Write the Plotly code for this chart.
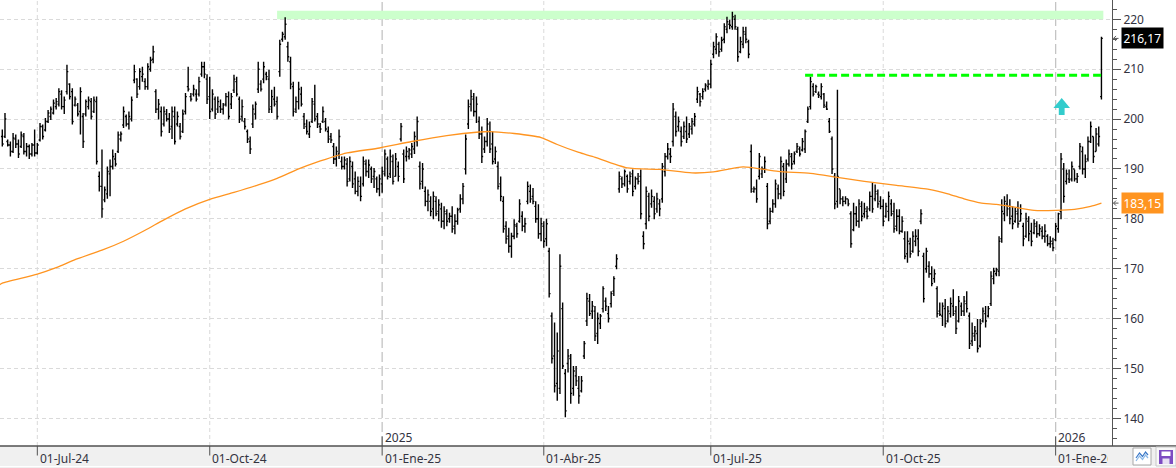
import pandas as pd
import plotly.graph_objects as go

# ---------------- data ----------------
start_date = "2024-06-11"
end_date = "2026-01-28"
market_holidays = ["2024-06-19", "2024-07-04", "2024-09-02", "2024-11-28", "2024-12-25",
                   "2025-01-01", "2025-01-09", "2025-01-20", "2025-02-17", "2025-04-18",
                   "2025-05-26", "2025-06-19", "2025-07-04", "2025-09-01", "2025-11-27",
                   "2025-12-25", "2026-01-01", "2026-01-19"]

opens = [196.5, 196.5, 195.5, 194.8, 193.5, 196.0, 195.0, 194.5, 196.5, 193.5,
         194.5, 193.0, 194.8, 193.2, 195.8, 198.5, 197.8, 199.5, 200.5, 201.2,
         202.5, 203.0, 205.0, 202.5, 205.5, 207.0, 205.5, 202.8, 202.8, 201.5,
         200.5, 201.0, 202.5, 203.5, 201.5, 203.5, 188.5, 186.5, 183.8, 185.0,
         189.0, 190.5, 192.0, 193.5, 196.0, 198.8, 200.5, 199.0, 200.0, 207.8,
         208.0, 206.5, 208.5, 207.5, 206.5, 210.0, 212.0, 205.5, 202.0, 201.5,
         199.0, 201.0, 200.0, 198.5, 200.5, 199.0, 198.5, 197.5, 201.5, 206.5,
         204.5, 205.0, 205.0, 205.0, 209.0, 210.5, 208.0, 204.5, 202.0, 204.0,
         202.0, 202.5, 202.0, 203.0, 204.5, 203.0, 205.8, 207.5, 204.0, 200.5,
         199.5, 197.5, 195.5, 199.0, 201.0, 206.0, 207.0, 208.0, 209.0, 208.0,
         202.5, 204.0, 203.5, 209.5, 216.0, 216.5, 214.5, 211.5, 206.5, 202.0,
         203.5, 205.0, 200.5, 198.5, 197.0, 199.5, 203.0, 200.5, 198.5, 199.5,
         199.5, 197.5, 196.5, 194.5, 192.0, 193.0, 191.5, 190.5, 191.0, 188.0,
         190.5, 188.0, 185.5, 186.5, 187.0, 191.0, 189.5, 190.0, 188.5, 188.0,
         186.0, 187.0, 189.0, 192.0, 189.0, 191.5, 188.5, 190.5, 196.0, 193.0,
         192.5, 192.5, 193.0, 194.0, 195.5, 190.5, 187.5, 185.5, 183.5, 183.5,
         182.0, 183.5, 181.5, 182.0, 179.5, 181.0, 180.0, 180.5, 178.5, 179.5,
         182.0, 184.0, 190.0, 199.0, 203.0, 204.0, 201.5, 199.5, 197.0, 194.0,
         195.5, 197.5, 195.0, 192.0, 190.5, 187.0, 183.5, 178.5, 176.5, 174.5,
         176.5, 178.5, 179.5, 180.5, 178.5, 183.5, 185.5, 184.5, 182.5, 180.0,
         177.0, 178.5, 176.0, 173.5, 160.5, 152.5, 147.0, 146.0, 162.0, 149.0,
         151.0, 152.0, 146.0, 148.5, 146.0, 145.5, 152.5, 159.5, 163.5, 161.5,
         161.5, 157.0, 159.0, 162.0, 163.5, 161.0, 163.0, 165.5, 170.5, 186.0,
         188.0, 187.0, 188.5, 187.5, 189.0, 186.5, 188.0, 188.5, 176.5, 179.0,
         184.5, 183.0, 183.5, 182.0, 183.0, 184.0, 189.5, 192.5, 193.0, 195.5,
         200.5, 198.5, 197.5, 196.5, 197.5, 197.0, 198.0, 199.0, 204.0, 205.0,
         204.5, 206.0, 206.5, 207.0, 213.0, 214.0, 215.0, 214.0, 216.0, 218.0,
         219.0, 218.5, 220.0, 218.0, 213.5, 215.0, 217.0, 215.5, 193.5, 185.5,
         186.0, 188.5, 189.0, 190.0, 186.5, 179.5, 181.5, 183.0, 186.0, 185.0,
         190.5, 188.0, 191.0, 192.5, 191.5, 193.5, 194.0, 193.8, 194.0, 199.5,
         202.5, 206.5, 205.5, 205.0, 204.5, 205.0, 202.5, 199.5, 196.0, 188.5,
         183.5, 186.0, 184.0, 183.5, 184.0, 181.0, 177.8, 181.0, 179.5, 182.5,
         181.0, 181.5, 182.0, 184.5, 184.0, 185.0, 183.5, 182.5, 180.5, 181.5,
         183.0, 181.5, 178.5, 180.5, 177.5, 176.0, 173.0, 175.0, 173.5, 175.5,
         176.0, 179.5, 172.5, 170.0, 170.5, 169.0, 168.0, 166.0, 161.5, 160.5,
         162.0, 159.5, 161.0, 162.5, 161.5, 159.5, 162.5, 161.5, 163.0, 160.5,
         155.5, 156.5, 157.0, 154.5, 159.5, 161.0, 160.5, 163.0, 168.0, 169.0,
         169.5, 176.0, 181.0, 183.0, 182.5, 180.5, 179.5, 181.0, 179.5, 178.5,
         176.5, 179.5, 177.5, 177.2, 178.5, 177.0, 177.5, 176.5, 176.5, 175.0,
         175.0, 175.8, 178.0, 181.5, 190.0, 187.5, 188.0, 188.0, 190.0, 188.0,
         190.5, 193.5, 190.0, 192.0, 195.5, 196.5, 193.5, 195.0, 204.5]

highs = [197.9, 201.2, 195.9, 195.5, 197.2, 196.9, 195.9, 197.5, 197.2, 195.2,
         194.9, 195.2, 197.9, 195.2, 199.2, 198.9, 200.2, 201.8, 202.5, 203.9,
         204.2, 206.2, 205.8, 204.5, 210.9, 207.2, 206.2, 204.5, 203.2, 206.4,
         201.2, 203.9, 204.5, 204.2, 204.5, 204.5, 189.5, 193.9, 186.5, 190.5,
         191.9, 193.9, 193.2, 197.5, 197.5, 202.5, 200.9, 201.5, 204.5, 210.9,
         208.2, 210.2, 210.5, 208.2, 211.2, 212.5, 214.7, 206.0, 204.0, 202.5,
         202.5, 202.0, 201.2, 202.5, 202.5, 201.5, 199.2, 201.9, 205.2, 210.5,
         205.2, 206.9, 206.0, 208.5, 211.5, 211.5, 209.0, 208.5, 206.0, 204.5,
         204.5, 203.9, 203.2, 205.2, 205.5, 205.2, 208.9, 208.5, 204.5, 203.9,
         200.2, 197.9, 196.5, 202.9, 203.5, 211.5, 207.8, 211.5, 209.5, 209.9,
         205.9, 206.5, 204.5, 215.9, 217.5, 220.4, 215.5, 212.5, 207.5, 204.5,
         207.5, 206.5, 201.2, 199.9, 199.5, 204.2, 206.9, 201.2, 199.2, 202.5,
         200.2, 198.5, 197.2, 195.2, 194.5, 197.9, 192.5, 192.5, 192.2, 192.5,
         191.5, 189.5, 188.5, 188.5, 192.5, 191.9, 191.9, 190.5, 190.2, 188.5,
         188.9, 190.5, 193.9, 192.5, 193.9, 192.9, 193.2, 191.5, 199.2, 193.9,
         194.5, 194.2, 195.2, 197.5, 200.5, 191.5, 191.2, 186.5, 185.9, 184.5,
         185.5, 184.5, 183.9, 183.2, 182.5, 181.9, 181.2, 182.5, 180.9, 182.2,
         184.9, 187.2, 196.9, 203.9, 205.9, 205.2, 204.5, 200.5, 198.5, 196.5,
         200.2, 199.5, 197.5, 194.5, 191.5, 188.5, 184.5, 179.5, 178.2, 177.2,
         179.9, 179.2, 183.9, 181.5, 180.2, 187.5, 186.9, 186.2, 183.5, 182.9,
         180.2, 179.5, 180.0, 174.2, 161.2, 159.2, 157.2, 172.9, 163.2, 149.9,
         153.9, 152.9, 150.5, 150.5, 148.5, 148.5, 155.5, 165.2, 164.9, 163.5,
         162.5, 161.2, 160.9, 166.5, 164.2, 162.5, 165.5, 168.5, 172.9, 189.5,
         188.5, 189.9, 188.9, 189.5, 189.9, 188.5, 189.2, 189.9, 177.5, 186.5,
         185.2, 185.9, 184.5, 185.2, 183.9, 191.2, 193.2, 195.2, 194.2, 203.2,
         201.5, 200.5, 198.5, 199.5, 200.5, 199.2, 200.2, 201.2, 206.5, 205.2,
         206.2, 207.2, 207.9, 211.9, 215.5, 217.2, 215.5, 216.5, 219.2, 220.5,
         219.9, 221.5, 220.9, 218.5, 216.5, 218.5, 218.5, 215.9, 194.9, 186.5,
         187.9, 193.2, 190.5, 192.5, 187.2, 182.2, 183.9, 187.9, 186.9, 192.5,
         191.2, 191.9, 193.9, 193.2, 193.5, 195.2, 194.5, 196.2, 197.9, 202.5,
         208.5, 207.2, 206.9, 205.5, 207.2, 205.2, 203.5, 200.2, 196.5, 189.2,
         205.9, 185.9, 184.5, 184.5, 183.9, 181.5, 183.2, 182.5, 183.9, 183.5,
         183.2, 182.5, 185.5, 187.2, 186.9, 185.9, 184.5, 183.9, 183.2, 185.5,
         183.9, 183.2, 181.9, 181.9, 180.5, 177.5, 177.5, 176.2, 177.5, 177.9,
         177.9, 181.9, 173.2, 174.2, 171.5, 170.5, 169.9, 166.5, 163.2, 163.2,
         163.9, 162.5, 164.2, 165.9, 162.5, 164.5, 163.2, 164.5, 165.5, 161.2,
         159.2, 158.5, 159.9, 159.9, 162.2, 162.5, 162.5, 169.5, 170.2, 170.2,
         176.5, 183.9, 184.5, 184.9, 183.9, 182.5, 182.2, 183.5, 182.9, 179.2,
         181.2, 180.5, 179.2, 179.9, 179.5, 178.9, 178.5, 178.9, 176.9, 176.5,
         176.2, 179.2, 181.2, 193.2, 191.2, 189.9, 189.9, 191.5, 189.9, 189.2,
         195.2, 194.5, 192.9, 196.5, 199.5, 196.5, 198.2, 198.5, 216.5]

lows = [194.5, 196.2, 194.5, 192.5, 193.2, 194.2, 192.2, 194.2, 192.9, 192.5,
        192.0, 192.5, 192.5, 192.9, 195.5, 195.9, 197.5, 199.2, 199.8, 200.9,
        201.9, 202.5, 201.9, 201.0, 204.9, 203.9, 198.9, 202.5, 200.5, 196.9,
        194.2, 200.5, 201.9, 199.9, 201.2, 190.9, 185.5, 180.2, 183.3, 184.0,
        184.5, 189.9, 190.5, 193.2, 195.5, 198.2, 198.5, 197.9, 199.5, 207.2,
        204.2, 205.9, 207.5, 205.9, 205.9, 209.5, 211.2, 201.2, 199.9, 196.5,
        198.5, 199.5, 197.2, 196.0, 194.9, 198.5, 195.9, 197.2, 200.9, 205.5,
        203.5, 204.5, 203.5, 204.5, 208.5, 208.2, 203.0, 200.0, 201.5, 200.0,
        201.2, 201.2, 200.9, 202.5, 199.9, 202.0, 205.2, 204.5, 199.2, 199.5,
        197.9, 195.2, 193.0, 198.2, 199.9, 205.2, 205.5, 207.2, 207.8, 201.2,
        201.2, 202.5, 199.9, 208.5, 215.5, 215.9, 211.5, 206.0, 200.5, 201.2,
        201.9, 202.5, 198.0, 196.9, 196.2, 199.2, 199.5, 198.2, 197.2, 199.2,
        197.5, 195.2, 195.2, 191.0, 190.5, 192.0, 189.9, 189.9, 186.5, 187.5,
        186.2, 184.9, 184.5, 183.5, 186.5, 188.5, 188.2, 187.2, 186.2, 185.2,
        184.5, 185.2, 188.5, 187.9, 188.2, 186.9, 188.5, 187.5, 195.5, 187.2,
        191.5, 191.9, 192.2, 193.0, 194.5, 185.9, 186.0, 182.5, 181.5, 180.5,
        179.9, 180.5, 179.5, 178.2, 177.9, 178.5, 179.2, 177.2, 176.9, 178.8,
        181.2, 182.9, 188.9, 198.0, 201.5, 200.5, 199.2, 196.0, 191.2, 193.2,
        194.5, 193.2, 190.9, 191.0, 185.9, 183.5, 177.2, 175.0, 173.2, 172.2,
        175.9, 176.2, 179.2, 177.5, 177.2, 182.9, 183.2, 182.9, 179.2, 176.0,
        175.5, 174.2, 174.5, 164.2, 151.0, 145.2, 143.5, 144.9, 149.9, 140.2,
        149.2, 142.9, 144.5, 146.5, 142.9, 145.2, 151.9, 158.5, 160.5, 159.9,
        155.5, 154.9, 157.9, 161.2, 161.5, 159.2, 162.2, 164.5, 169.9, 185.2,
        186.2, 186.5, 185.2, 186.9, 184.5, 185.9, 186.9, 179.9, 173.9, 177.9,
        179.5, 182.2, 179.9, 181.2, 180.5, 183.2, 188.5, 191.9, 191.2, 194.5,
        196.5, 197.5, 194.5, 196.0, 195.2, 196.2, 196.9, 198.5, 203.2, 202.5,
        203.9, 205.5, 205.9, 206.2, 212.2, 213.0, 212.5, 213.5, 215.2, 217.2,
        218.0, 217.9, 217.9, 211.5, 213.2, 214.2, 215.2, 212.2, 185.2, 185.2,
        183.2, 187.9, 188.2, 189.2, 177.9, 178.9, 181.2, 182.2, 183.9, 183.9,
        184.5, 187.2, 190.5, 189.9, 190.9, 193.2, 192.5, 193.5, 193.2, 199.2,
        201.9, 204.5, 205.2, 204.2, 203.9, 202.2, 201.8, 197.2, 189.0, 181.9,
        182.2, 182.9, 182.5, 182.9, 182.5, 174.2, 177.5, 178.5, 178.2, 179.5,
        180.2, 179.9, 181.5, 181.2, 183.5, 182.2, 181.9, 178.5, 180.2, 179.5,
        180.5, 177.2, 177.5, 176.9, 177.2, 171.9, 171.2, 172.2, 173.2, 174.5,
        172.5, 178.9, 163.2, 169.2, 168.2, 166.5, 167.2, 160.2, 160.5, 158.5,
        158.2, 159.2, 160.2, 160.5, 156.9, 159.2, 160.5, 160.5, 161.2, 153.9,
        154.5, 155.5, 153.2, 154.2, 159.2, 158.2, 160.2, 162.5, 166.9, 168.5,
        168.5, 175.2, 179.5, 180.5, 178.9, 177.9, 179.2, 178.2, 179.5, 174.5,
        176.2, 175.5, 174.5, 176.9, 176.2, 176.5, 175.9, 175.2, 174.5, 174.2,
        173.5, 175.5, 177.2, 179.9, 183.2, 186.9, 187.2, 187.5, 187.5, 187.2,
        189.9, 188.9, 188.2, 191.5, 195.2, 191.2, 193.5, 194.5, 203.9]

closes = [195.0, 200.0, 194.8, 193.5, 196.2, 195.0, 193.0, 196.8, 193.5, 194.5,
          193.0, 194.8, 193.2, 194.8, 198.5, 196.5, 199.5, 201.2, 202.0, 203.2,
          203.5, 205.5, 202.5, 203.8, 209.5, 204.5, 199.5, 204.0, 201.0, 205.5,
          195.5, 203.5, 203.8, 200.5, 203.8, 191.5, 186.5, 182.0, 185.8, 189.5,
          190.5, 192.5, 191.0, 196.8, 197.0, 201.5, 199.0, 200.5, 203.8, 209.5,
          205.0, 209.5, 209.0, 206.5, 210.5, 211.8, 213.5, 202.0, 203.0, 197.5,
          201.5, 200.0, 198.0, 201.5, 195.5, 200.5, 196.5, 201.0, 204.5, 206.0,
          204.0, 206.0, 204.0, 207.5, 210.5, 209.0, 204.0, 201.5, 205.0, 201.0,
          203.5, 202.0, 202.8, 204.5, 200.5, 204.5, 208.0, 205.0, 200.0, 202.5,
          198.5, 196.0, 194.0, 202.0, 203.0, 210.0, 206.0, 210.5, 208.5, 202.0,
          204.5, 203.0, 200.5, 215.0, 217.0, 219.0, 212.5, 207.0, 201.5, 203.5,
          206.0, 203.0, 199.0, 197.5, 198.5, 203.5, 200.0, 199.0, 198.0, 201.5,
          198.0, 196.0, 195.8, 192.0, 193.5, 196.5, 190.5, 191.8, 187.5, 191.5,
          187.0, 185.5, 187.5, 184.5, 191.5, 189.5, 190.8, 188.0, 189.5, 186.0,
          188.0, 189.5, 193.0, 188.5, 192.5, 187.5, 192.0, 188.5, 198.5, 188.0,
          193.5, 193.8, 194.5, 196.5, 199.5, 187.0, 190.0, 183.5, 184.8, 181.5,
          184.5, 181.0, 182.8, 179.5, 181.5, 179.5, 180.5, 178.0, 179.5, 181.8,
          184.0, 186.5, 196.0, 202.5, 204.5, 201.5, 203.0, 197.0, 192.5, 195.5,
          199.0, 194.0, 191.5, 193.5, 186.5, 184.5, 178.0, 176.0, 174.5, 176.5,
          178.8, 177.0, 183.0, 178.5, 179.0, 186.5, 184.0, 183.5, 180.0, 177.0,
          179.0, 175.5, 179.0, 165.0, 152.0, 146.5, 153.5, 170.5, 150.5, 141.5,
          152.5, 145.0, 149.5, 147.5, 144.5, 147.5, 155.0, 164.0, 161.0, 162.5,
          156.5, 160.0, 160.5, 166.0, 162.5, 160.0, 165.0, 168.0, 172.0, 188.5,
          187.0, 189.5, 186.0, 188.5, 185.5, 188.0, 187.5, 181.0, 175.0, 185.5,
          180.5, 184.5, 181.0, 184.0, 182.0, 190.5, 192.5, 194.0, 192.5, 202.0,
          197.5, 199.5, 195.5, 198.5, 196.0, 198.5, 199.5, 200.5, 205.5, 203.5,
          205.5, 206.8, 207.0, 211.0, 214.5, 216.5, 213.5, 215.8, 218.5, 219.5,
          218.8, 220.5, 218.5, 212.5, 215.5, 217.5, 216.0, 213.0, 186.0, 186.0,
          184.0, 192.5, 190.0, 191.5, 179.0, 181.5, 183.0, 187.0, 185.0, 191.5,
          185.5, 191.0, 193.0, 191.0, 193.0, 194.5, 193.0, 195.5, 197.5, 202.0,
          207.5, 205.0, 206.5, 204.8, 206.5, 202.8, 202.0, 197.5, 190.0, 183.0,
          188.5, 184.0, 183.5, 184.0, 183.0, 175.0, 181.0, 179.5, 183.0, 180.5,
          182.0, 180.5, 184.5, 182.0, 185.5, 183.0, 182.5, 179.5, 182.5, 184.5,
          181.0, 178.0, 180.5, 177.5, 179.5, 172.5, 175.5, 173.0, 176.5, 176.5,
          173.5, 181.0, 164.0, 173.5, 169.0, 167.0, 169.0, 161.0, 160.8, 162.5,
          159.0, 161.5, 163.0, 161.0, 158.0, 163.5, 161.5, 163.5, 162.0, 155.0,
          157.0, 157.5, 154.0, 159.0, 161.5, 159.5, 162.0, 168.5, 169.5, 169.8,
          175.5, 181.5, 183.5, 182.0, 180.0, 179.0, 181.5, 179.0, 181.0, 176.0,
          180.0, 177.0, 175.5, 179.0, 177.0, 178.0, 176.5, 177.5, 175.0, 175.5,
          174.2, 178.5, 181.0, 192.0, 184.5, 189.0, 187.8, 190.5, 188.0, 188.5,
          194.5, 190.0, 191.5, 195.5, 198.5, 192.5, 197.0, 196.5, 216.17]

# 200-session moving average (bar index, value)
ma_idx = [-1, 0, 13, 20, 28, 37, 45, 53, 60, 68,
          77, 86, 95, 102, 110, 116, 128, 140, 152, 165,
          177, 181, 190, 200, 206, 214, 219, 232, 244, 256,
          264, 275, 288, 300, 310, 320, 332, 344, 351, 357,
          363, 369, 375, 383, 391, 398, 404, 408]
ma_vals = [166.8, 167.1, 168.9, 170.2, 172.0, 173.7, 175.5, 177.7, 179.8, 182.0,
           183.9, 185.3, 186.8, 188.1, 190.0, 191.2, 193.2, 194.2, 195.5, 196.7,
           197.4, 197.5, 197.1, 196.3, 194.9, 193.3, 192.5, 190.2, 189.9, 189.2,
           189.4, 190.4, 189.5, 189.1, 188.3, 187.5, 186.7, 185.9, 185.0, 184.0,
           183.2, 182.9, 182.4, 181.7, 181.7, 181.9, 182.5, 183.15]

quarter_months = {1: "Ene", 4: "Abr", 7: "Jul", 10: "Oct"}

# drawn studies
resist_band = [220.0, 221.7]
resist_band_start = 102
resist_line_level = 208.8
resist_line_start = 298
arrow_idx = 393.25
arrow_tip = 204.2
arrow_base = 200.8
last_close_text = "216,17"
ma_last_text = "183,15"

# ---------------- geometry / style ----------------
W, H = 1176, 468
ML, MR, MT, MB = 0, 64, 0, 22
PW, PH = W - ML - MR, H - MT - MB
x_lo, x_hi = -0.854, 411.92
y_lo, y_hi = 134.45, 223.87
bar_px = PW / (x_hi - x_lo)
unit_px = PH / (y_hi - y_lo)

FONT = "Noto Sans, Open Sans, sans-serif"
TXT = "#33333f"
AXC = "#505050"
ORANGE = "#FF9420"


def px_x(px):
    return px / PW


def px_y(py):
    return (PH - py) / PH


N = len(closes)
assert len(opens) == N and len(highs) == N and len(lows) == N
dates = pd.bdate_range(start_date, end_date, freq="C", holidays=market_holidays)[:N]
idx = list(range(N))

# quarter ticks
q_ticks = []
for i, d in enumerate(dates):
    if d.month in quarter_months and (i == 0 or dates[i - 1].month != d.month):
        q_ticks.append((i, d))

fig = go.Figure()

fig.add_trace(go.Ohlc(
    x=idx, open=opens, high=highs, low=lows, close=closes,
    increasing=dict(line=dict(color="black", width=1.4)),
    decreasing=dict(line=dict(color="black", width=1.4)),
    tickwidth=0.5, hoverinfo="skip", showlegend=False,
))

fig.add_trace(go.Scatter(
    x=ma_idx, y=ma_vals, mode="lines",
    line=dict(color=ORANGE, width=1.3, shape="spline", smoothing=0.6),
    hoverinfo="skip", showlegend=False,
))

shapes = []
# bottom strip
shapes.append(dict(type="rect", xref="paper", yref="paper", x0=px_x(0), x1=px_x(W),
                   y0=px_y(H), y1=px_y(PH), fillcolor="#F0F0F0", line=dict(width=0), layer="below"))
shapes.append(dict(type="line", xref="paper", yref="paper", x0=px_x(0), x1=px_x(W),
                   y0=px_y(466.5), y1=px_y(466.5), line=dict(color="#ffffff", width=1), layer="below"))
# vertical grid lines
for i, d in q_ticks:
    if d.month == 1:
        shapes.append(dict(type="line", xref="x", yref="paper", x0=i, x1=i, y0=0, y1=1,
                           line=dict(color="#c4c4c4", width=1.3, dash="10px,4px"), layer="below"))
    else:
        shapes.append(dict(type="line", xref="x", yref="paper", x0=i, x1=i, y0=0, y1=1,
                           line=dict(color="#dadada", width=1, dash="4px,3px"), layer="below"))
# bottom axis line
shapes.append(dict(type="line", xref="paper", yref="paper", x0=px_x(0), x1=px_x(W),
                   y0=0, y1=0, line=dict(color=AXC, width=1.5)))
# quarter tick marks (down) and year ticks (up)
for i, d in q_ticks:
    shapes.append(dict(type="line", xref="x", yref="paper", x0=i, x1=i, y0=0, y1=px_y(PH + 9.5),
                       line=dict(color=AXC, width=1)))
    if d.month == 1:
        shapes.append(dict(type="line", xref="x", yref="paper", x0=i, x1=i, y0=0, y1=px_y(PH - 9.5),
                           line=dict(color=AXC, width=1)))
# resistance band
shapes.append(dict(type="rect", xref="x", yref="y", x0=resist_band_start, x1=N - 0.3,
                   y0=resist_band[0], y1=resist_band[1], fillcolor="#CCFFCC",
                   line=dict(width=0), layer="between"))
# dashed resistance line
shapes.append(dict(type="line", xref="x", yref="y", x0=resist_line_start, x1=N - 0.7,
                   y0=resist_line_level, y1=resist_line_level,
                   line=dict(color="#00FF00", width=3, dash="8px,4px")))
# cyan arrow
hw = 8.3 / bar_px
sw = 2.9 / bar_px
hb = arrow_tip - 10.0 / unit_px
a = arrow_idx
arrow_path = (f"M {a - hw},{hb} L {a},{arrow_tip} L {a + hw},{hb} L {a + sw},{hb} "
              f"L {a + sw},{arrow_base} L {a - sw},{arrow_base} L {a - sw},{hb} Z")
shapes.append(dict(type="path", xref="x", yref="y", path=arrow_path,
                   fillcolor="#33CCCC", line=dict(width=0)))
# small pointer arrows at right-hand labels
dy = 2.5 / unit_px
for v in (closes[-1], ma_vals[-1]):
    p = (f"M {px_x(1118.5)},{v} L {px_x(1113.5)},{v} M {px_x(1116)},{v + dy} "
         f"L {px_x(1113.5)},{v} L {px_x(1116)},{v - dy}")
    shapes.append(dict(type="path", xref="paper", yref="y", path=p,
                       line=dict(color="#555555", width=1)))
# toolbar icons (bottom right)
shapes.append(dict(type="rect", xref="paper", yref="paper", x0=px_x(1133), x1=px_x(1151),
                   y0=px_y(465), y1=px_y(448), fillcolor="white", line=dict(color="#a8a8a8", width=1)))
zz1 = f"M {px_x(1136)},{px_y(458)} L {px_x(1139.5)},{px_y(453)} L {px_x(1142.5)},{px_y(456.5)} L {px_x(1145.5)},{px_y(452)} L {px_x(1148)},{px_y(455)}"
zz2 = f"M {px_x(1136)},{px_y(461)} L {px_x(1139.5)},{px_y(456)} L {px_x(1142.5)},{px_y(459.5)} L {px_x(1145.5)},{px_y(455)} L {px_x(1148)},{px_y(458)}"
shapes.append(dict(type="path", xref="paper", yref="paper", path=zz1, line=dict(color="#3a78c8", width=1.2)))
shapes.append(dict(type="path", xref="paper", yref="paper", path=zz2, line=dict(color="#8ab8e8", width=1.2)))
shapes.append(dict(type="rect", xref="paper", yref="paper", x0=px_x(1156), x1=px_x(1176),
                   y0=px_y(466), y1=px_y(447), fillcolor="#f8f8f8", line=dict(color="#c8c8c8", width=1)))
shapes.append(dict(type="rect", xref="paper", yref="paper", x0=px_x(1159), x1=px_x(1173),
                   y0=px_y(464), y1=px_y(450), fillcolor="#7d4cc2", line=dict(width=0)))
shapes.append(dict(type="rect", xref="paper", yref="paper", x0=px_x(1161.5), x1=px_x(1170.5),
                   y0=px_y(456), y1=px_y(451.5), fillcolor="white", line=dict(width=0)))
shapes.append(dict(type="rect", xref="paper", yref="paper", x0=px_x(1162.5), x1=px_x(1169.5),
                   y0=px_y(464), y1=px_y(458.5), fillcolor="#e8e0f4", line=dict(width=0)))

annotations = []
for k, (i, d) in enumerate(q_ticks):
    label = f"01-{quarter_months[d.month]}-{d.strftime('%y')}"
    ann = dict(x=i, xref="x", y=px_y(458.3), yref="paper", text=label, showarrow=False,
               xanchor="left", yanchor="middle", xshift=0.5, align="left",
               font=dict(family=FONT, size=12, color=TXT))
    if k == len(q_ticks) - 1:
        ann["width"] = 50
    annotations.append(ann)
    if d.month == 1:
        annotations.append(dict(x=i, xref="x", y=px_y(437.8), yref="paper", text=d.strftime("%Y"),
                                showarrow=False, xanchor="left", yanchor="middle", xshift=0.5,
                                font=dict(family=FONT, size=12, color=TXT)))

annotations.append(dict(x=px_x(1121), xref="paper", y=closes[-1], yref="y", text=last_close_text,
                        showarrow=False, xanchor="left", yanchor="middle", bgcolor="black",
                        borderpad=1.5, font=dict(family=FONT, size=12, color="white")))
annotations.append(dict(x=px_x(1121), xref="paper", y=ma_vals[-1], yref="y", text=ma_last_text,
                        showarrow=False, xanchor="left", yanchor="middle", bgcolor=ORANGE,
                        borderpad=1.5, font=dict(family=FONT, size=12, color="white")))

fig.update_layout(
    template="none",
    width=W, height=H,
    margin=dict(l=ML, r=MR, t=MT, b=MB, pad=0),
    paper_bgcolor="white", plot_bgcolor="white",
    showlegend=False, hovermode=False,
    font=dict(family=FONT, size=12, color=TXT),
    xaxis=dict(range=[x_lo, x_hi], showgrid=False, zeroline=False, showticklabels=False,
               ticks="", showline=False, rangeslider=dict(visible=False), fixedrange=True,
               automargin=False),
    yaxis=dict(side="right", range=[y_lo, y_hi], tick0=0, dtick=10, showgrid=True,
               gridcolor="#dadada", griddash="4px,3px", gridwidth=1, zeroline=False,
               ticks="outside", ticklen=8, tickwidth=1, tickcolor="#555555",
               showline=True, linecolor="#555555", linewidth=1, automargin=False,
               tickfont=dict(family=FONT, size=12, color=TXT), fixedrange=True,
               minor=dict(dtick=2, tick0=0, ticks="outside", ticklen=4, tickcolor="#555555",
                          showgrid=False)),
    shapes=shapes,
    annotations=annotations,
)

fig.write_html("out.html")
